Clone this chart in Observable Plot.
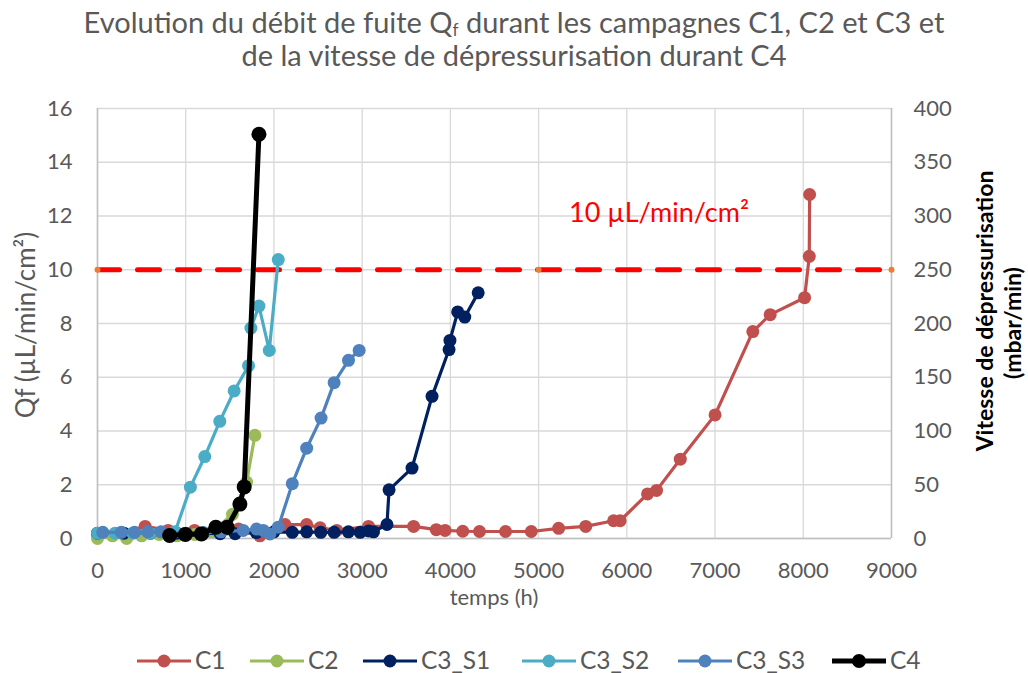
<!DOCTYPE html>
<html>
<head>
<meta charset="utf-8">
<script src="https://cdn.jsdelivr.net/npm/d3@7"></script>
<script src="https://cdn.jsdelivr.net/npm/@observablehq/plot@0.6"></script>
<style>
  html, body { margin: 0; padding: 0; background: #fff; }
  #chart { width: 1028px; height: 673px; }
  svg text { font-family: Lato, "Open Sans", sans-serif; }
</style>
</head>
<body>
<div id="chart"></div>
<script>
// ---------- data ----------
const seriesNames = ["C1", "C2", "C3_S1", "C3_S2", "C3_S3", "C4"];
const seriesColors = ["#C0504D", "#9BBB59", "#002060", "#4BACC6", "#4F81BD", "#000000"];

const c1X = [0, 280, 540, 800, 1100, 1400, 1600, 1840, 2125, 2371, 2523, 2712, 3072, 3583, 3840, 3940, 4140, 4330, 4625, 4917, 5227, 5534, 5850, 5924, 6235, 6337, 6606, 7000, 7428, 7625, 8015, 8068, 8072];
const c1Y = [0.15, 0.2, 0.45, 0.3, 0.3, 0.3, 0.35, 0.1, 0.52, 0.52, 0.4, 0.3, 0.45, 0.45, 0.33, 0.3, 0.27, 0.26, 0.26, 0.26, 0.38, 0.45, 0.66, 0.66, 1.66, 1.79, 2.95, 4.6, 7.7, 8.33, 8.96, 10.5, 12.8];

const c2X = [0, 170, 330, 500, 700, 900, 1100, 1300, 1530, 1690, 1784];
const c2Y = [0, 0.1, 0, 0.1, 0.15, 0.1, 0.15, 0.25, 0.9, 2.1, 3.84];

const c3s1X = [0, 300, 600, 900, 1200, 1390, 1560, 1800, 2000, 2208, 2371, 2531, 2682, 2844, 2977, 3072, 3129, 3281, 3305, 3565, 3792, 3985, 3995, 4083, 4163, 4315];
const c3s1Y = [0.2, 0.2, 0.2, 0.2, 0.2, 0.18, 0.18, 0.22, 0.25, 0.23, 0.25, 0.23, 0.23, 0.25, 0.23, 0.28, 0.25, 0.52, 1.81, 2.62, 5.29, 7.03, 7.37, 8.43, 8.24, 9.14];

const c3s2X = [0, 200, 400, 600, 880, 1053, 1216, 1386, 1549, 1712, 1739, 1830, 1947, 2049];
const c3s2Y = [0.2, 0.2, 0.2, 0.2, 0.25, 1.91, 3.05, 4.36, 5.49, 6.43, 7.83, 8.65, 7.0, 10.38];

const c3s3X = [60, 270, 420, 570, 720, 1000, 1200, 1400, 1652, 1803, 1880, 1955, 2049, 2208, 2371, 2534, 2682, 2845, 2966];
const c3s3Y = [0.23, 0.23, 0.23, 0.25, 0.25, 0.2, 0.22, 0.25, 0.3, 0.35, 0.3, 0.17, 0.42, 2.04, 3.36, 4.48, 5.8, 6.63, 7.0];

// C4: vitesse de dépressurisation (mbar/min), right axis
const c4X = [818, 996, 1178, 1341, 1470, 1614, 1663, 1830];
const c4Vitesse = [2.8, 3.8, 4.3, 10.5, 10.5, 32, 48, 376];

const thresholdX = [0, 5000, 9000];
const thresholdY = [10, 10, 10];
const thresholdLabel = "10 µL/min/cm²";

const xTicks = [0, 1000, 2000, 3000, 4000, 5000, 6000, 7000, 8000, 9000];
const yTicks = [0, 2, 4, 6, 8, 10, 12, 14, 16];
const rightRatio = 25; // 400 mbar/min <-> 16 µL/min/cm²

// ---------- build tables ----------
const xs = [c1X, c2X, c3s1X, c3s2X, c3s3X, c4X];
const ys = [c1Y, c2Y, c3s1Y, c3s2Y, c3s3Y, c4Vitesse.map(v => v / rightRatio)];
const series = seriesNames.map((name, i) => ({
  name, color: seriesColors[i],
  data: xs[i].map((x, j) => ({x, y: ys[i][j]}))
}));
const threshold = thresholdX.map((x, i) => ({x, y: thresholdY[i]}));

const grey = "#595959";
const marks = [
  Plot.gridX(xTicks, {stroke: "#D9D9D9", strokeOpacity: 1, strokeWidth: 1.3}),
  Plot.gridY(yTicks, {stroke: "#D9D9D9", strokeOpacity: 1, strokeWidth: 1.3}),
  Plot.ruleY([0], {stroke: "#BFBFBF", strokeWidth: 1.5}),
  Plot.ruleX([0, 9000], {stroke: "#BFBFBF", strokeWidth: 1.5}),
  Plot.line(threshold, {x: "x", y: "y", stroke: "#FF0000", strokeWidth: 5, strokeDasharray: "22,18"}),
  Plot.dot(threshold, {x: "x", y: "y", r: 3, fill: "#ED7D31", stroke: "none"}),
  Plot.text([{x: 6364, y: 12.1}], {x: "x", y: "y", text: () => thresholdLabel, fill: "#FF0000", fontSize: 27, textAnchor: "middle"})
];
series.forEach(s => {
  const isC4 = s.name === "C4";
  marks.push(Plot.line(s.data, {x: "x", y: "y", stroke: s.color, strokeWidth: isC4 ? 5 : 3.2, curve: "linear"}));
  marks.push(Plot.dot(s.data, {x: "x", y: "y", r: isC4 ? 7.5 : 6.5, fill: s.color, stroke: "none"}));
});
marks.push(
  Plot.axisX(xTicks, {tickSize: 0, tickPadding: 24, fontSize: 22, fill: grey, label: null, tickFormat: d => String(d)}),
  Plot.axisY(yTicks, {anchor: "left", tickSize: 0, tickPadding: 25, fontSize: 22, fill: grey, label: null, tickFormat: d => String(d)}),
  Plot.axisY(yTicks, {anchor: "right", tickSize: 0, tickPadding: 22, fontSize: 22, fill: grey, label: null, tickFormat: d => String(d * rightRatio)})
);

const plot = Plot.plot({
  width: 1028, height: 673,
  marginLeft: 97, marginRight: 137, marginTop: 108, marginBottom: 135,
  x: {domain: [0, 9000]},
  y: {domain: [0, 16]},
  style: {background: "#fff", fontFamily: "Lato, sans-serif", overflow: "visible"},
  marks
});
document.getElementById("chart").appendChild(plot);

// ---------- titles & legend ----------
const svg = d3.select(plot);
const t1 = svg.append("text").attr("x", 514).attr("y", 33).attr("text-anchor", "middle")
  .attr("font-size", 29).attr("fill", grey);
t1.append("tspan").text("Evolution du débit de fuite Q");
t1.append("tspan").text("f").attr("font-size", 17).attr("baseline-shift", "-20%");
t1.append("tspan").text(" durant les campagnes C1, C2 et C3 et");
svg.append("text").attr("x", 514).attr("y", 66).attr("text-anchor", "middle")
  .attr("font-size", 29).attr("fill", grey).text("de la vitesse de dépressurisation durant C4");

svg.append("text").attr("x", 494).attr("y", 605).attr("text-anchor", "middle")
  .attr("font-size", 22).attr("fill", grey).text("temps (h)");
svg.append("text").attr("transform", "translate(35,325) rotate(-90)").attr("text-anchor", "middle")
  .attr("font-size", 26).attr("fill", grey).text("Qf (µL/min/cm²)");
svg.append("text").attr("transform", "translate(993,311) rotate(-90)").attr("text-anchor", "middle")
  .attr("font-size", 23).attr("font-weight", "bold").attr("fill", "#000").text("Vitesse de dépressurisation");
svg.append("text").attr("transform", "translate(1021,323) rotate(-90)").attr("text-anchor", "middle")
  .attr("font-size", 23).attr("font-weight", "bold").attr("fill", "#000").text("(mbar/min)");

// legend
const legendX = [137, 250, 363, 522, 678, 832];
const lg = svg.append("g");
series.forEach((s, i) => {
  const x0 = legendX[i], yc = 661;
  const isC4 = s.name === "C4";
  lg.append("line").attr("x1", x0).attr("x2", x0 + 54).attr("y1", yc).attr("y2", yc)
    .attr("stroke", s.color).attr("stroke-width", isC4 ? 5 : 3);
  lg.append("circle").attr("cx", x0 + 27).attr("cy", yc).attr("r", isC4 ? 7 : 6.5).attr("fill", s.color);
  lg.append("text").attr("x", x0 + 58).attr("y", 669).attr("text-anchor", "start")
    .attr("font-size", 24.5).attr("fill", grey).text(s.name);
});
</script>
</body>
</html>
